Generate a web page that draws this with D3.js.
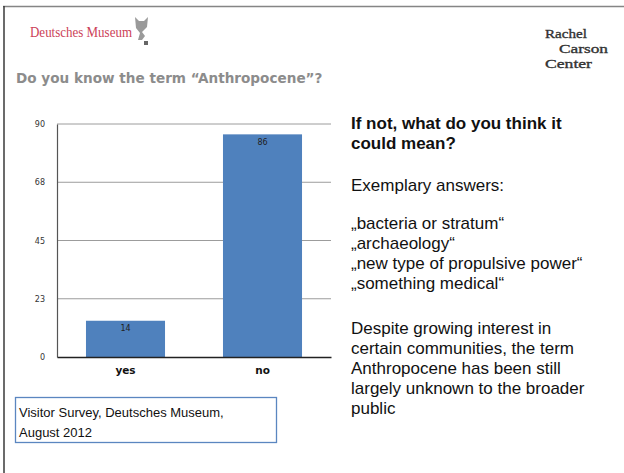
<!DOCTYPE html>
<html>
<head>
<meta charset="utf-8">
<script src="https://cdn.jsdelivr.net/npm/d3@7"></script>
<style>
  html, body { margin: 0; padding: 0; background: #fff; }
  svg { display: block; }
</style>
</head>
<body>
<script>
// Survey answers: "Do you know the term Anthropocene?"
const categories = ["yes", "no"];
const values = [14, 86];
const tickValues = [0, 22.5, 45, 67.5, 90];
const tickLabels = ["0", "23", "45", "68", "90"];

const titleText = "Do you know the term \u201CAnthropocene\u201D?";
const questionLines = ["If not, what do you think it", "could mean?"];
const introLine = "Exemplary answers:";
const answerLines = [
  "\u201Ebacteria or stratum\u201C",
  "\u201Earchaeology\u201C",
  "\u201Enew type of propulsive power\u201C",
  "\u201Esomething medical\u201C"
];
const conclusionLines = [
  "Despite growing interest in",
  "certain communities, the term",
  "Anthropocene has been still",
  "largely unknown to the broader",
  "public"
];
const sourceLines = ["Visitor Survey, Deutsches Museum,", "August 2012"];
const rccLines = ["Rachel", "Carson", "Center"];

const W = 624, H = 473;
const svg = d3.select("body").append("svg")
  .attr("width", W).attr("height", H);

// slide frame
svg.append("line").attr("x1", 3).attr("x2", W).attr("y1", 6.5).attr("y2", 6.5)
  .attr("stroke", "#858585").attr("stroke-width", 1.5);
svg.append("line").attr("x1", 4).attr("x2", 4).attr("y1", 6).attr("y2", H)
  .attr("stroke", "#3a3a3a").attr("stroke-width", 1.5);

// Deutsches Museum wordmark
const dm = svg.append("g");
dm.append("text").attr("x", 30).attr("y", 37)
  .attr("font-family", "Liberation Serif").attr("font-size", 14.5)
  .attr("fill", "#cc4258").attr("textLength", 102).attr("lengthAdjust", "spacingAndGlyphs")
  .text("Deutsches Museum");
dm.append("path").attr("d", "M135,17 L139,21 L144,21 L148,17 L147,27 L142,32 L145,36 L142,40 L138,40 L140,33 L136,28 Z")
  .attr("fill", "#9a9a9a");
dm.append("rect").attr("x", 144).attr("y", 41).attr("width", 4).attr("height", 4).attr("fill", "#666");

// Rachel Carson Center wordmark: tightly set stacked words
const rccX = [545, 559, 545];
const rccLen = [42, 49, 47];
svg.append("g").selectAll("text").data(rccLines).join("text")
  .attr("x", (d, i) => rccX[i]).attr("y", (d, i) => 38 + i * 15)
  .attr("textLength", (d, i) => rccLen[i]).attr("lengthAdjust", "spacingAndGlyphs")
  .attr("font-family", "Liberation Serif").attr("font-size", 13.5)
  .attr("fill", "#333").attr("stroke", "#333").attr("stroke-width", 0.35)
  .text(d => d);

// title
svg.append("text").attr("x", 16).attr("y", 83)
  .attr("font-family", "DejaVu Sans").attr("font-weight", "bold")
  .attr("font-size", 13.6).attr("fill", "#8c8c8c")
  .text(titleText);

// bar chart
const plot = { left: 57, right: 331, top: 124, bottom: 357 };
const x = d3.scaleBand().domain(categories)
  .range([plot.left, plot.right]).paddingInner(0.423).paddingOuter(0.2115);
const y = d3.scaleLinear().domain([0, 90]).range([plot.bottom, plot.top]);

const chart = svg.append("g");

// gridlines
chart.append("g")
  .selectAll("line").data(tickValues.slice(1)).join("line")
  .attr("x1", plot.left).attr("x2", plot.right)
  .attr("y1", d => y(d)).attr("y2", d => y(d))
  .attr("stroke", "#9c9c9c").attr("stroke-width", 1);

// y axis
const yAxis = d3.axisLeft(y).tickValues(tickValues)
  .tickFormat((d, i) => tickLabels[i]).tickSize(0).tickPadding(12);
const ya = chart.append("g").attr("transform", `translate(${plot.left},0)`).call(yAxis);
ya.select(".domain").attr("stroke", "#555").attr("stroke-width", 1.2);
ya.selectAll("text").attr("font-family", "DejaVu Sans").attr("font-size", 8).attr("fill", "#333");

// bars
chart.append("g").selectAll("rect").data(values).join("rect")
  .attr("x", (d, i) => x(categories[i]))
  .attr("width", x.bandwidth())
  .attr("y", d => y(d))
  .attr("height", d => y(0) - y(d))
  .attr("fill", "#4f81bd");

// value labels
chart.append("g").selectAll("text").data(values).join("text")
  .attr("x", (d, i) => x(categories[i]) + x.bandwidth() / 2)
  .attr("y", d => y(d) + 10.5)
  .attr("text-anchor", "middle")
  .attr("font-family", "DejaVu Sans").attr("font-size", 8).attr("fill", "#222")
  .text(d => d);

// x axis
const xAxis = d3.axisBottom(x).tickSize(0).tickPadding(10);
const xa = chart.append("g").attr("transform", `translate(0,${plot.bottom})`).call(xAxis);
xa.select(".domain").attr("stroke", "#222").attr("stroke-width", 1.5);
xa.selectAll("text").attr("font-family", "DejaVu Sans").attr("font-weight", "bold")
  .attr("font-size", 10.5).attr("fill", "#111");

// source box
svg.append("rect").attr("x", 15.5).attr("y", 397.5).attr("width", 261).attr("height", 45)
  .attr("fill", "#fff").attr("stroke", "#5a86c0").attr("stroke-width", 1.3);
svg.append("g").selectAll("text").data(sourceLines).join("text")
  .attr("x", 19).attr("y", (d, i) => 416.5 + i * 20)
  .attr("font-family", "Liberation Sans").attr("font-size", 13).attr("fill", "#111")
  .text(d => d);

// right-hand notes
const notes = svg.append("g").attr("font-family", "Liberation Sans").attr("font-size", 17).attr("fill", "#111");
const tx = 351;
notes.selectAll("text.q").data(questionLines).join("text").attr("class", "q")
  .attr("x", tx).attr("y", (d, i) => 129 + i * 20).attr("font-weight", "bold").text(d => d);
notes.append("text").attr("x", tx).attr("y", 191).text(introLine);
notes.selectAll("text.a").data(answerLines).join("text").attr("class", "a")
  .attr("x", tx).attr("y", (d, i) => 229 + i * 20).text(d => d);
notes.selectAll("text.c").data(conclusionLines).join("text").attr("class", "c")
  .attr("x", tx).attr("y", (d, i) => 334 + i * 20).text(d => d);
</script>
</body>
</html>
